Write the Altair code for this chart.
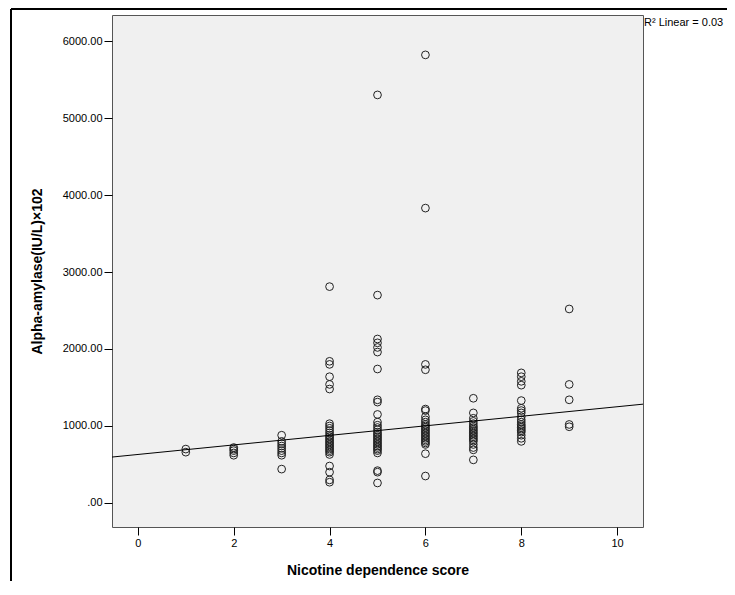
import altair as alt
import pandas as pd

# ---- data ----
scores = [1, 2, 3, 4, 5, 6, 7, 8, 9]
amylase_by_score = {
    1: [660, 700],
    2: [620, 650, 680, 700, 720],
    3: [880, 800, 770, 740, 710, 680, 650, 620, 440],
    4: [2810, 1840, 1800, 1640, 1540, 1480, 1030, 1000, 970, 940, 910, 880, 860,
        840, 820, 800, 780, 760, 740, 720, 700, 680, 660, 630, 480, 400, 300, 270],
    5: [5300, 2700, 2130, 2080, 2020, 1960, 1740, 1340, 1310, 1150, 1050, 1010,
        980, 950, 920, 900, 880, 860, 840, 820, 800, 780, 760, 740, 720, 700, 680,
        650, 420, 400, 260],
    6: [5820, 3830, 1800, 1730, 1220, 1200, 1120, 1080, 1050, 1020, 1000, 980,
        960, 940, 920, 900, 880, 860, 840, 820, 800, 780, 760, 640, 350],
    7: [1360, 1170, 1100, 1060, 1030, 1000, 980, 960, 940, 920, 900, 880, 860,
        840, 820, 800, 760, 720, 690, 560],
    8: [1690, 1640, 1580, 1530, 1330, 1230, 1200, 1170, 1120, 1080, 1050, 1020,
        1000, 980, 960, 940, 920, 880, 840, 800],
    9: [2520, 1540, 1340, 1020, 990],
}
fit_intercept = 630
fit_slope = 62
r2_label = "R\u00b2 Linear = 0.03"
x_ticks = [0, 2, 4, 6, 8, 10]
y_ticks = [0, 1000, 2000, 3000, 4000, 5000, 6000]
x_domain = [-0.54, 10.54]
y_domain = [-312, 6338]

rows = [{"score": s, "amylase": v} for s in scores for v in amylase_by_score[s]]
df = pd.DataFrame(rows)
fit_df = pd.DataFrame({
    "score": x_domain,
    "amylase": [fit_intercept + fit_slope * x for x in x_domain],
})

FONT = "Liberation Sans"
W, H = 531, 512

xs = alt.Scale(domain=x_domain, nice=False, zero=False)
ys = alt.Scale(domain=y_domain, nice=False, zero=False)

x_axis = alt.Axis(values=x_ticks, title="Nicotine dependence score", grid=False,
                  domain=False, tickSize=8, tickColor="#000", labelFontSize=11,
                  labelColor="#000", labelPadding=2, titleFontSize=14,
                  titleFontWeight="bold", titleColor="#000", titlePadding=15,
                  labelFont=FONT, titleFont=FONT)
y_axis = alt.Axis(values=y_ticks, title="Alpha-amylase(IU/L)\u00d7102", grid=False,
                  domain=False, tickSize=8, tickColor="#000", labelFontSize=11,
                  labelColor="#000", labelPadding=2, titleFontSize=14,
                  titleFontWeight="bold", titleColor="#000", titlePadding=18,
                  labelFont=FONT, titleFont=FONT,
                  labelExpr="datum.value == 0 ? '.00' : format(datum.value, '.2f')")

points = alt.Chart(df).mark_point(shape="circle", filled=False, size=60,
                                  stroke="#222", strokeWidth=1, opacity=1).encode(
    x=alt.X("score:Q", scale=xs, axis=x_axis),
    y=alt.Y("amylase:Q", scale=ys, axis=y_axis),
)

fit = alt.Chart(fit_df).mark_line(color="#000", strokeWidth=1, clip=True).encode(
    x=alt.X("score:Q", scale=xs),
    y=alt.Y("amylase:Q", scale=ys),
)

r2 = alt.Chart(pd.DataFrame({"t": [r2_label]})).mark_text(
    align="left", baseline="middle", fontSize=11, font=FONT, color="#000", clip=False
).encode(x=alt.value(W + 1), y=alt.value(8), text="t:N")

frame_left = alt.Chart(pd.DataFrame({"a": [0]})).mark_rule(
    color="#000", strokeWidth=2, clip=False
).encode(x=alt.value(-101), y=alt.value(-6), y2=alt.value(H + 54))

frame_top = alt.Chart(pd.DataFrame({"a": [0]})).mark_rule(
    color="#000", strokeWidth=2, clip=False
).encode(x=alt.value(-101), x2=alt.value(W + 84), y=alt.value(-6))

chart = alt.layer(frame_left, frame_top, points, fit, r2).properties(
    width=W, height=H,
    padding={"left": 104, "top": 7, "right": 84, "bottom": 54},
    autosize=alt.AutoSizeParams(type="none"),
).configure(
    background="#ffffff"
).configure_view(
    fill="#f0f0f0", stroke="#555", strokeWidth=1
)

chart.save("out.html", embed_options={"renderer": "svg", "actions": False})
